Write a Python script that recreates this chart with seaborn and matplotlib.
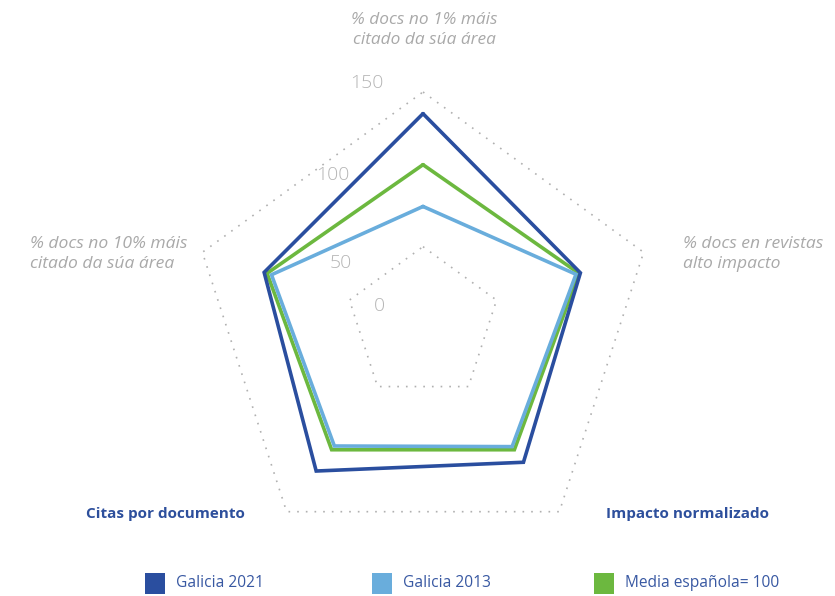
import numpy as np
import pandas as pd
import matplotlib
matplotlib.use("Agg")
import matplotlib.pyplot as plt
from matplotlib.patches import Rectangle
import seaborn as sns

# ---- data ----
categorias = [
    "% docs no 1% máis\ncitado da súa área",
    "% docs en revistas\nalto impacto",
    "Impacto normalizado",
    "Citas por documento",
    "% docs no 10% máis\ncitado da súa área",
]
series = ["Galicia 2021", "Galicia 2013", "Media española= 100"]
galicia_2021 = [136, 107, 110.5, 117.5, 108]
galicia_2013 = [76, 104, 98, 97.5, 103]
media_espanola = [103, 106, 100.5, 100.5, 106]
niveis_grella = [50, 150]
etiquetas_escala = ["0", "50", "100", "150"]

cores = {"Galicia 2021": "#2a4e9f", "Galicia 2013": "#69addc", "Media española= 100": "#6cb83f"}

sns.set_theme(style="white")
plt.rcParams["font.family"] = ["Open Sans", "DejaVu Sans"]

W, H = 835, 596
fig = plt.figure(figsize=(W / 100, H / 100), dpi=100)
cx, cy, R = 423, 324, 232
ax = fig.add_axes([(cx - R) / W, (H - cy - R) / H, 2 * R / W, 2 * R / H], projection="polar")
ax.set_theta_zero_location("N")
ax.set_theta_direction(-1)
ax.set_ylim(0, 150)
ax.grid(False)
ax.spines["polar"].set_visible(False)
ax.set_facecolor("none")
fig.patch.set_facecolor("white")

n = len(categorias)
theta = np.linspace(0, 2 * np.pi, n, endpoint=False)
theta_c = np.append(theta, 2 * np.pi)

# dotted pentagon grid
for lv in niveis_grella:
    ax.plot(theta_c, [lv] * (n + 1), color="#b0b0b0", lw=1.2,
            linestyle=(0, (1, 4.2)), clip_on=False, zorder=1)

rows = []
for name, vals in [("Media española= 100", media_espanola),
                   ("Galicia 2013", galicia_2013),
                   ("Galicia 2021", galicia_2021)]:
    vv = list(vals) + [vals[0]]
    for t, v in zip(theta_c, vv):
        rows.append({"serie": name, "theta": t, "valor": v})
df = pd.DataFrame(rows)

sns.lineplot(data=df, x="theta", y="valor", hue="serie", palette=cores,
             hue_order=["Media española= 100", "Galicia 2013", "Galicia 2021"],
             sort=False, estimator=None, lw=2.6, legend=False, ax=ax,
             solid_joinstyle="miter", zorder=3)
for ln in ax.lines:
    ln.set_clip_on(False)
ax.set_xlabel("")
ax.set_ylabel("")
ax.set_xticks([])
ax.set_yticks([])

# scale labels (placed as in the reference)
pos_escala = [(-67.7, 30.7), (-53.4, 66), (-31.1, 112.5), (-13.1, 159.7)]
for lab, (ang, r) in zip(etiquetas_escala, pos_escala):
    ax.text(np.deg2rad(ang), r, lab, ha="center", va="center", fontsize=14,
            color="#b5b5b5", fontweight="light", clip_on=False)

def fx(x):
    return x / W

def fy(y):
    return 1 - y / H

grey = "#a9a9a9"
blue = "#2d4f9c"
fig.text(fx(424), fy(30), categorias[0], ha="center", va="center", fontsize=12.4,
         style="italic", color=grey, linespacing=1.4)
fig.text(fx(683), fy(254), categorias[1], ha="left", va="center", fontsize=12.6,
         style="italic", color=grey, linespacing=1.4)
fig.text(fx(30), fy(254), categorias[4], ha="left", va="center", fontsize=12.6,
         style="italic", color=grey, linespacing=1.4)
fig.text(fx(687), fy(514), categorias[2], ha="center", va="center", fontsize=11,
         fontweight="bold", color=blue)
fig.text(fx(165), fy(514), categorias[3], ha="center", va="center", fontsize=11,
         fontweight="bold", color=blue)

# legend
leg_x = [145, 372, 594]
for sx, name in zip(leg_x, series):
    fig.add_artist(Rectangle((fx(sx), fy(594)), 20 / W, 21 / H,
                             transform=fig.transFigure, color=cores[name], lw=0))
    fig.text(fx(sx + 31), fy(583), name, ha="left", va="center", fontsize=11.2,
             color="#3858a2")

fig.savefig("out.png", dpi=100)
